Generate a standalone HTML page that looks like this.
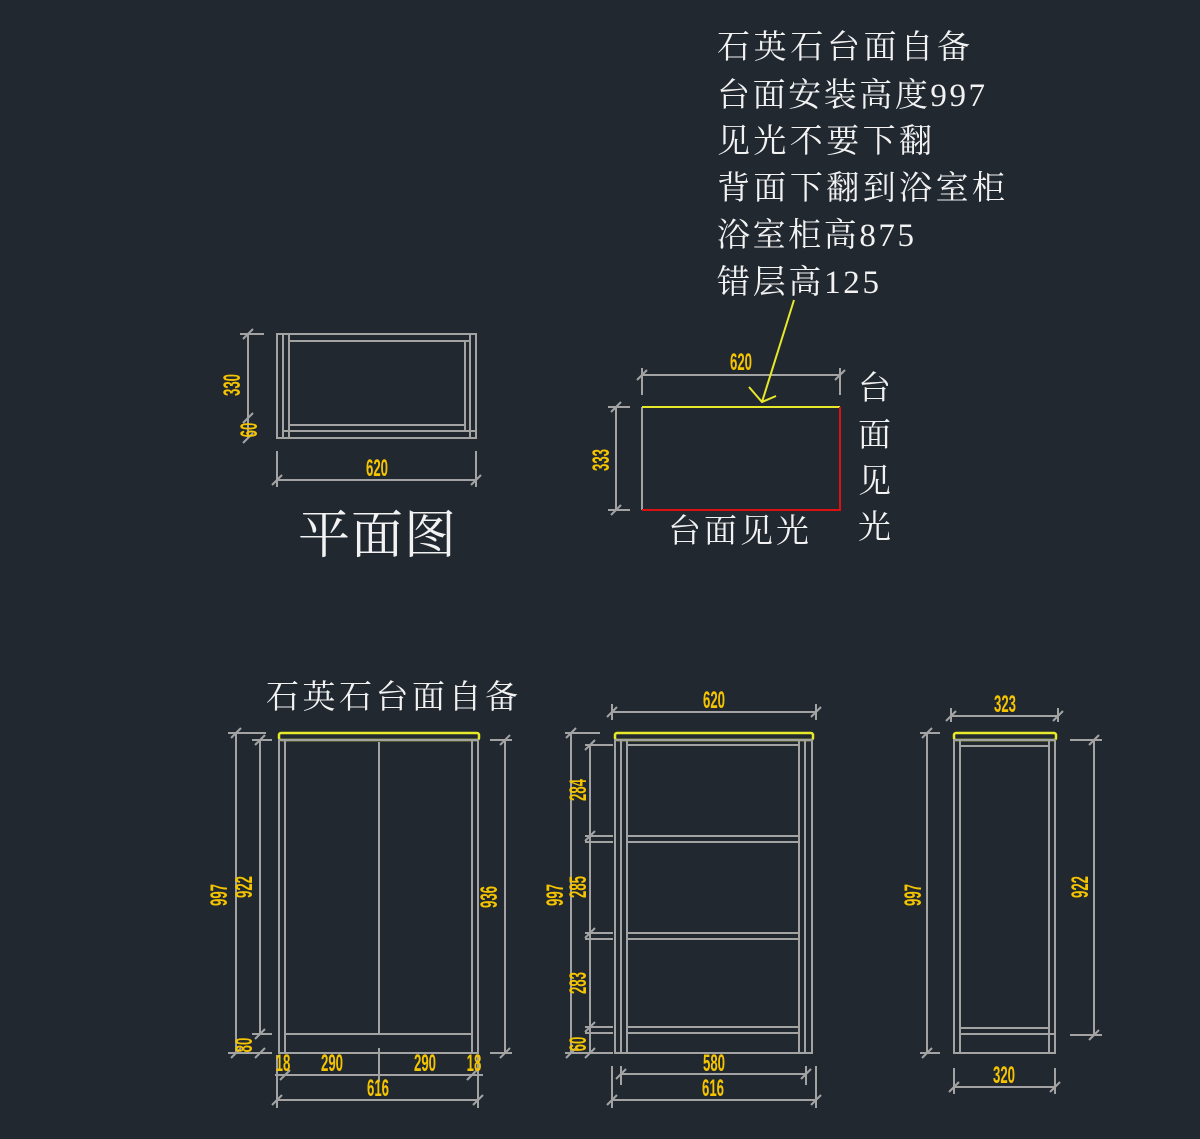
<!DOCTYPE html>
<html><head><meta charset="utf-8"><style>
html,body{margin:0;padding:0;background:#212830;}
svg{display:block}
.g{stroke:#a3a3a3;stroke-width:2;fill:none}
.t{fill:#f2f2f2;font-family:"Liberation Serif","Noto Serif CJK SC",serif;font-size:33px}
.d{fill:#f5c400;font-family:"Liberation Sans Narrow","Liberation Sans",sans-serif;font-size:24px;font-weight:bold}
</style></head><body>
<svg width="1200" height="1139" viewBox="0 0 1200 1139" xmlns="http://www.w3.org/2000/svg">
<rect width="1200" height="1139" fill="#212830"/>
<!-- notes -->
<g class="t">
<text x="717" y="58" textLength="253">石英石台面自备</text>
<text x="717" y="106" textLength="268">台面安装高度997</text>
<text x="717" y="152" textLength="215">见光不要下翻</text>
<text x="717" y="199" textLength="288">背面下翻到浴室柜</text>
<text x="717" y="246" textLength="197">浴室柜高875</text>
<text x="717" y="293" textLength="162">错层高125</text>
<text x="298" y="553" font-size="52" textLength="158">平面图</text>
<text x="668" y="542" textLength="141">台面见光</text>
<text x="858" y="399">台</text>
<text x="858" y="446">面</text>
<text x="858" y="492">见</text>
<text x="858" y="538">光</text>
<text x="266" y="708" textLength="252">石英石台面自备</text>
</g>
<!-- plan -->
<g class="g">
<rect x="277" y="334" width="199" height="104"/>
<line x1="283" y1="334" x2="283" y2="438"/><line x1="289" y1="334" x2="289" y2="438"/>
<line x1="289" y1="341" x2="470" y2="341"/><line x1="283" y1="431" x2="476" y2="431"/>
<line x1="289" y1="425" x2="465" y2="425"/>
<line x1="465" y1="341" x2="465" y2="431"/><line x1="470" y1="334" x2="470" y2="438"/>
<line x1="248" y1="334" x2="248" y2="438"/><line x1="240" y1="334" x2="264" y2="334"/>
<line x1="243" y1="339" x2="253" y2="329"/><line x1="243" y1="423" x2="253" y2="413"/><line x1="243" y1="443" x2="253" y2="433"/>
<line x1="277" y1="451" x2="277" y2="487"/><line x1="476" y1="451" x2="476" y2="487"/>
<line x1="277" y1="480" x2="476" y2="480"/>
<line x1="272" y1="485" x2="282" y2="475"/><line x1="471" y1="485" x2="481" y2="475"/>
</g>
<text class="d" transform="translate(240,385) rotate(-90) scale(0.55,1)" text-anchor="middle">330</text>
<text class="d" transform="translate(257,430) rotate(-90) scale(0.55,1)" text-anchor="middle">60</text>
<text class="d" transform="translate(377,476) scale(0.55,1)" text-anchor="middle">620</text>
<!-- top view counter -->
<line x1="642" y1="407" x2="642" y2="510" stroke="#a3a3a3" stroke-width="2"/>
<line x1="642" y1="407" x2="840" y2="407" stroke="#e8e82a" stroke-width="2"/>
<polyline points="840,407 840,510 642,510" stroke="#dd1111" stroke-width="2" fill="none"/>
<g class="g">
<line x1="642" y1="375" x2="840" y2="375"/><line x1="642" y1="368" x2="642" y2="395"/><line x1="840" y1="368" x2="840" y2="395"/>
<line x1="637" y1="380" x2="647" y2="370"/><line x1="835" y1="380" x2="845" y2="370"/>
<line x1="616" y1="407" x2="616" y2="510"/><line x1="608" y1="407" x2="630" y2="407"/><line x1="608" y1="510" x2="630" y2="510"/>
<line x1="611" y1="412" x2="621" y2="402"/><line x1="611" y1="515" x2="621" y2="505"/>
</g>
<text class="d" transform="translate(741,370) scale(0.55,1)" text-anchor="middle">620</text>
<text class="d" transform="translate(609,460) rotate(-90) scale(0.55,1)" text-anchor="middle">333</text>
<g stroke="#e8e82a" stroke-width="2" fill="none">
<line x1="794" y1="300" x2="762" y2="402"/><polyline points="749,387 762,402 776,396"/>
</g>
<!-- front 1 -->
<rect x="279" y="733" width="200" height="7" rx="2" fill="none" stroke="#e8e82a" stroke-width="2.5"/>
<g class="g">
<rect x="279" y="740" width="199" height="313"/>
<line x1="285" y1="740" x2="285" y2="1053"/><line x1="472" y1="740" x2="472" y2="1053"/>
<line x1="379" y1="742" x2="379" y2="1034"/><line x1="285" y1="1034" x2="472" y2="1034"/>
<line x1="236" y1="733" x2="236" y2="1053"/><line x1="228" y1="733" x2="266" y2="733"/><line x1="228" y1="1053" x2="272" y2="1053"/>
<line x1="260" y1="740" x2="260" y2="1034"/><line x1="252" y1="740" x2="272" y2="740"/><line x1="252" y1="1034" x2="272" y2="1034"/>
<line x1="231" y1="738" x2="241" y2="728"/><line x1="231" y1="1058" x2="241" y2="1048"/>
<line x1="255" y1="745" x2="265" y2="735"/><line x1="255" y1="1039" x2="265" y2="1029"/><line x1="255" y1="1058" x2="265" y2="1048"/>
<line x1="505" y1="740" x2="505" y2="1053"/><line x1="490" y1="740" x2="512" y2="740"/><line x1="490" y1="1053" x2="512" y2="1053"/>
<line x1="500" y1="745" x2="510" y2="735"/><line x1="500" y1="1058" x2="510" y2="1048"/>
<line x1="275" y1="1075" x2="483" y2="1075"/><line x1="379" y1="1048" x2="379" y2="1082"/>
<line x1="277" y1="1055" x2="277" y2="1108"/><line x1="478" y1="1055" x2="478" y2="1108"/>
<line x1="277" y1="1100" x2="478" y2="1100"/>
<line x1="272" y1="1105" x2="282" y2="1095"/><line x1="473" y1="1105" x2="483" y2="1095"/>
<line x1="280" y1="1080" x2="290" y2="1070"/><line x1="467" y1="1080" x2="477" y2="1070"/>
</g>
<text class="d" transform="translate(227,895) rotate(-90) scale(0.55,1)" text-anchor="middle">997</text>
<text class="d" transform="translate(252,887) rotate(-90) scale(0.55,1)" text-anchor="middle">922</text>
<text class="d" transform="translate(252,1045) rotate(-90) scale(0.55,1)" text-anchor="middle">80</text>
<text class="d" transform="translate(497,897) rotate(-90) scale(0.55,1)" text-anchor="middle">936</text>
<g class="d" text-anchor="middle">
<text transform="translate(283,1071) scale(0.55,1)">18</text>
<text transform="translate(332,1071) scale(0.55,1)">290</text>
<text transform="translate(425,1071) scale(0.55,1)">290</text>
<text transform="translate(474,1071) scale(0.55,1)">18</text>
<text transform="translate(378,1096) scale(0.55,1)">616</text>
</g>
<!-- front 2 -->
<rect x="615" y="733" width="198" height="7" rx="2" fill="none" stroke="#e8e82a" stroke-width="2.5"/>
<g class="g">
<rect x="615" y="740" width="197" height="313"/>
<line x1="621" y1="740" x2="621" y2="1053"/><line x1="627" y1="740" x2="627" y2="1053"/>
<line x1="799" y1="740" x2="799" y2="1053"/><line x1="805" y1="740" x2="805" y2="1053"/>
<line x1="627" y1="745" x2="799" y2="745"/>
<line x1="627" y1="836" x2="799" y2="836"/><line x1="627" y1="842" x2="799" y2="842"/>
<line x1="627" y1="933" x2="799" y2="933"/><line x1="627" y1="939" x2="799" y2="939"/>
<line x1="627" y1="1027" x2="799" y2="1027"/><line x1="627" y1="1033" x2="799" y2="1033"/>
<line x1="571" y1="733" x2="571" y2="1053"/><line x1="565" y1="733" x2="600" y2="733"/>
<line x1="590" y1="745" x2="590" y2="1053"/><line x1="585" y1="745" x2="613" y2="745"/>
<line x1="585" y1="836" x2="613" y2="836"/><line x1="585" y1="842" x2="613" y2="842"/>
<line x1="585" y1="933" x2="613" y2="933"/><line x1="585" y1="939" x2="613" y2="939"/>
<line x1="585" y1="1027" x2="613" y2="1027"/><line x1="585" y1="1033" x2="613" y2="1033"/>
<line x1="565" y1="1053" x2="613" y2="1053"/>
<line x1="566" y1="738" x2="576" y2="728"/><line x1="566" y1="1058" x2="576" y2="1048"/>
<line x1="585" y1="750" x2="595" y2="740"/><line x1="585" y1="841" x2="595" y2="831"/><line x1="585" y1="938" x2="595" y2="928"/><line x1="585" y1="1032" x2="595" y2="1022"/><line x1="585" y1="1058" x2="595" y2="1048"/>
<line x1="612" y1="704" x2="612" y2="720"/><line x1="816" y1="704" x2="816" y2="720"/>
<line x1="612" y1="712" x2="816" y2="712"/>
<line x1="607" y1="717" x2="617" y2="707"/><line x1="811" y1="717" x2="821" y2="707"/>
<line x1="621" y1="1066" x2="621" y2="1085"/><line x1="806" y1="1066" x2="806" y2="1085"/>
<line x1="621" y1="1074" x2="806" y2="1074"/>
<line x1="616" y1="1079" x2="626" y2="1069"/><line x1="801" y1="1079" x2="811" y2="1069"/>
<line x1="612" y1="1066" x2="612" y2="1108"/><line x1="816" y1="1066" x2="816" y2="1108"/>
<line x1="612" y1="1100" x2="816" y2="1100"/>
<line x1="607" y1="1105" x2="617" y2="1095"/><line x1="811" y1="1105" x2="821" y2="1095"/>
</g>
<g class="d" text-anchor="middle">
<text transform="translate(714,708) scale(0.55,1)">620</text>
<text transform="translate(714,1071) scale(0.55,1)">580</text>
<text transform="translate(713,1096) scale(0.55,1)">616</text>
<text transform="translate(563,895) rotate(-90) scale(0.55,1)">997</text>
<text transform="translate(586,790) rotate(-90) scale(0.55,1)">284</text>
<text transform="translate(586,887) rotate(-90) scale(0.55,1)">285</text>
<text transform="translate(586,983) rotate(-90) scale(0.55,1)">283</text>
<text transform="translate(586,1044) rotate(-90) scale(0.55,1)">60</text>
</g>
<!-- side -->
<rect x="954" y="733" width="102" height="7" rx="2" fill="none" stroke="#e8e82a" stroke-width="2.5"/>
<g class="g">
<rect x="954" y="740" width="101" height="313"/>
<line x1="960" y1="740" x2="960" y2="1053"/><line x1="1049" y1="740" x2="1049" y2="1053"/>
<line x1="960" y1="746" x2="1049" y2="746"/>
<line x1="960" y1="1028" x2="1049" y2="1028"/><line x1="960" y1="1034" x2="1055" y2="1034"/>
<line x1="927" y1="733" x2="927" y2="1053"/><line x1="920" y1="733" x2="940" y2="733"/><line x1="920" y1="1053" x2="940" y2="1053"/>
<line x1="922" y1="738" x2="932" y2="728"/><line x1="922" y1="1058" x2="932" y2="1048"/>
<line x1="1094" y1="740" x2="1094" y2="1035"/><line x1="1070" y1="740" x2="1102" y2="740"/><line x1="1070" y1="1035" x2="1102" y2="1035"/>
<line x1="1089" y1="745" x2="1099" y2="735"/><line x1="1089" y1="1040" x2="1099" y2="1030"/>
<line x1="951" y1="708" x2="951" y2="722"/><line x1="1058" y1="708" x2="1058" y2="722"/>
<line x1="951" y1="716" x2="1058" y2="716"/>
<line x1="946" y1="721" x2="956" y2="711"/><line x1="1053" y1="721" x2="1063" y2="711"/>
<line x1="954" y1="1068" x2="954" y2="1094"/><line x1="1055" y1="1068" x2="1055" y2="1094"/>
<line x1="954" y1="1087" x2="1055" y2="1087"/>
<line x1="949" y1="1092" x2="959" y2="1082"/><line x1="1050" y1="1092" x2="1060" y2="1082"/>
</g>
<g class="d" text-anchor="middle">
<text transform="translate(1005,712) scale(0.55,1)">323</text>
<text transform="translate(1004,1083) scale(0.55,1)">320</text>
<text transform="translate(921,895) rotate(-90) scale(0.55,1)">997</text>
<text transform="translate(1088,887) rotate(-90) scale(0.55,1)">922</text>
</g>
</svg>
</body></html>
